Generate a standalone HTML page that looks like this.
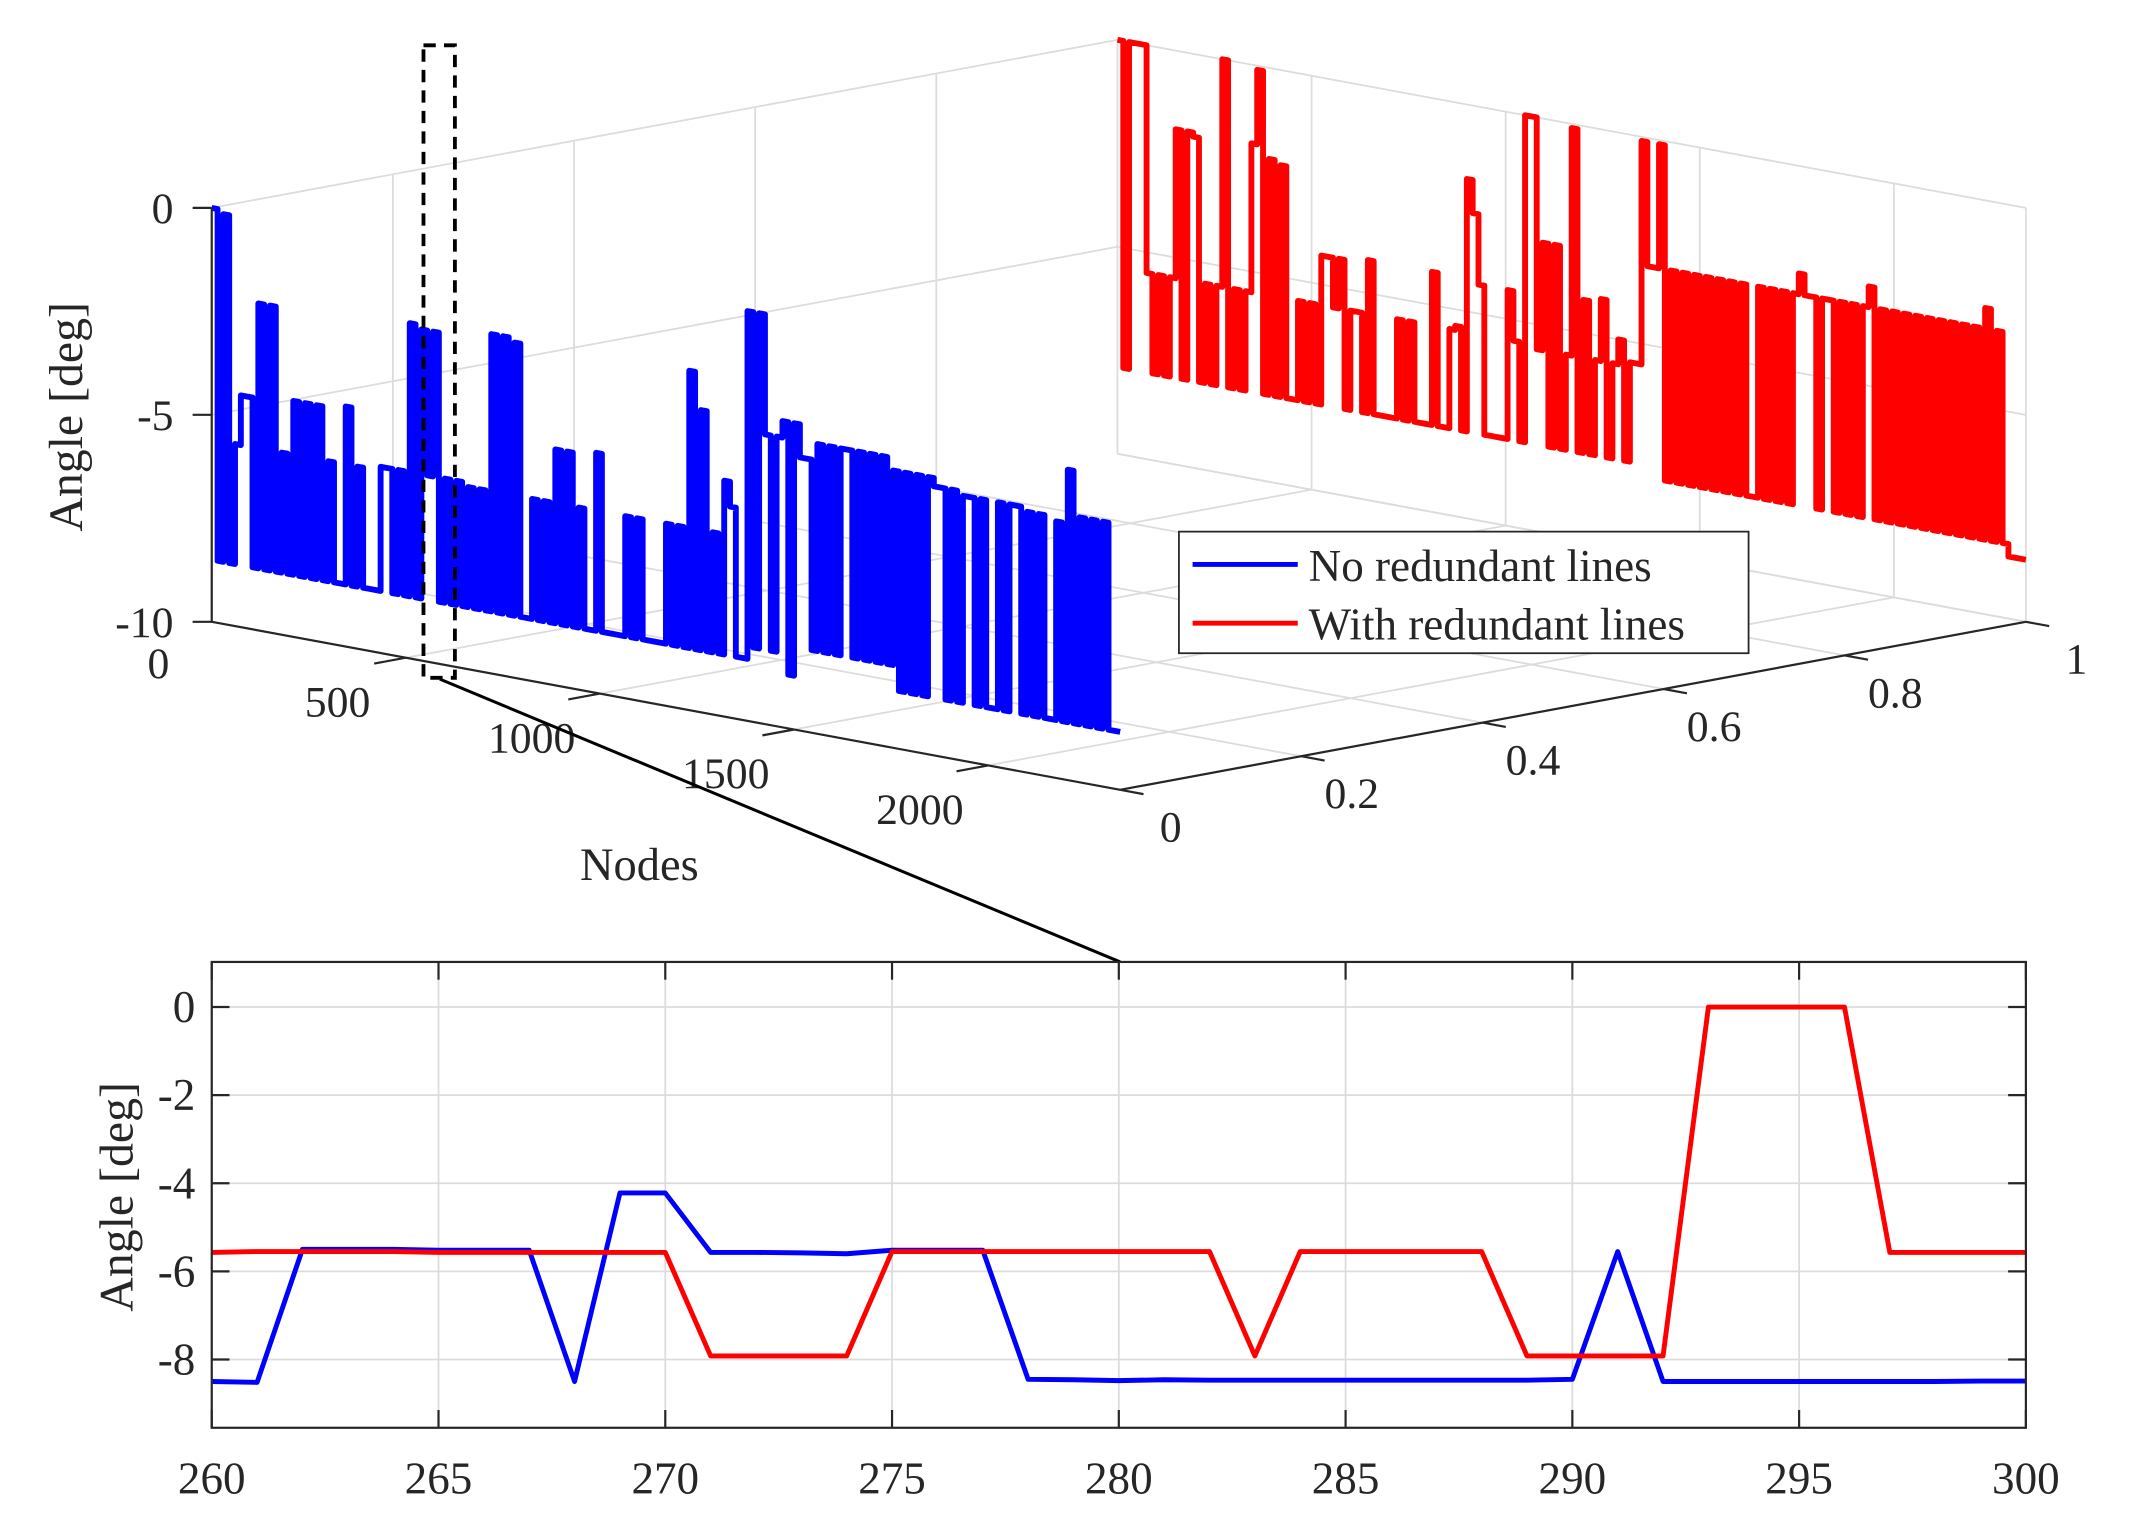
<!DOCTYPE html>
<html><head><meta charset="utf-8"><title>Angle vs Nodes</title>
<style>
html,body{margin:0;padding:0;background:#fff;}
svg{display:block;}
text{font-family:"Liberation Serif","DejaVu Serif",serif;fill:#262626;}
</style></head>
<body>
<svg id="fig" width="2142" height="1525" viewBox="0 0 1568 1116" xmlns="http://www.w3.org/2000/svg">
  <g id="top3d"></g>
  <g id="bottom"></g>
</svg>
<script>
// ---------- 3D chart data ----------
const nodeStep = 15;
const nodeTicks = [500, 1000, 1500, 2000];
const nodeTickLabels = ["500", "1000", "1500", "2000"];
const sTicks = [0, 0.2, 0.4, 0.6, 0.8, 1];
const sTickLabels = ["0", "0.2", "0.4", "0.6", "0.8", "1"];
const zTicks = [0, -5, -10];
const zTickLabels = ["0", "-5", "-10"];
const blueAngles = [
0,-8.5,-0.1,-8.5,-5.6,-4.4,-4.4,-8.5,-2.1,-8.5,
-2.1,-8.5,-5.6,-8.5,-4.3,-8.5,-4.3,-8.5,-4.3,-8.5,
-5.6,-8.5,-8.5,-4.2,-8.5,-5.6,-8.5,-8.5,-8.5,-5.5,
-5.5,-8.5,-5.5,-8.5,-1.9,-8.5,-2.0,-5.5,-2.0,-8.5,
-5.5,-8.5,-5.5,-8.5,-5.6,-8.5,-5.6,-8.5,-1.8,-8.5,
-1.8,-8.5,-1.9,-8.5,-8.5,-5.6,-8.5,-5.6,-8.5,-4.3,
-8.5,-4.3,-8.5,-5.6,-8.5,-8.5,-4.2,-8.5,-8.5,-8.5,
-8.5,-5.6,-8.5,-5.6,-8.5,-8.5,-8.5,-8.5,-5.6,-8.5,
-5.6,-8.5,-1.8,-8.5,-2.7,-8.5,-5.6,-8.5,-4.3,-4.9,
-8.5,-8.5,-0.1,-8.2,-0.1,-3.0,-8.2,-3.0,-2.6,-8.7,
-2.6,-3.4,-3.4,-8.0,-3.0,-8.0,-3.0,-8.0,-3.0,-3.0,
-8.0,-3.0,-8.0,-3.0,-8.0,-3.0,-8.0,-3.3,-8.6,-3.3,
-8.6,-3.3,-8.6,-3.3,-3.5,-3.5,-8.6,-3.5,-8.6,-3.6,
-3.6,-8.6,-3.6,-8.6,-8.6,-3.6,-8.6,-3.6,-3.6,-8.6,
-3.7,-8.6,-3.7,-8.6,-8.6,-3.8,-8.6,-2.5,-8.6,-3.6,
-8.6,-3.6,-8.6,-3.6,-8.6
];
const redAngles = [
0,-7.9,0,0,0,-5.5,-7.9,-5.5,-7.9,-5.5,
-1.9,-7.9,-1.9,-2.0,-7.9,-5.5,-7.9,-5.5,0,-7.9,
-5.5,-7.9,-5.5,-1.9,-0.1,-7.9,-2.2,-7.9,-2.3,-7.9,
-7.9,-5.5,-7.9,-5.5,-7.9,-4.3,-4.3,-5.5,-4.3,-7.9,
-5.5,-5.5,-7.9,-4.2,-7.9,-7.9,-7.9,-7.9,-5.5,-7.9,
-5.5,-7.9,-7.9,-7.9,-4.2,-7.9,-7.9,-5.5,-5.4,-7.9,
-1.8,-2.6,-4.3,-7.9,-7.9,-7.9,-7.9,-4.3,-5.5,-7.9,
0,0,-5.6,-3.0,-7.9,-3.0,-7.9,-5.6,-0.1,-7.9,
-4.2,-7.9,-5.6,-4.1,-7.9,-5.6,-5.0,-7.9,-5.5,-5.5,
-0.1,-3.1,-3.1,-0.1,-8.2,-3.1,-8.2,-3.1,-8.2,-3.1,
-8.2,-3.1,-8.2,-3.1,-8.2,-3.1,-8.2,-3.1,-8.2,-8.2,
-3.1,-8.2,-3.1,-8.2,-3.1,-8.2,-3.1,-2.6,-3.1,-3.1,
-8.2,-3.1,-3.1,-8.2,-3.1,-8.2,-3.1,-8.2,-3.1,-2.6,
-8.2,-3.1,-8.2,-3.1,-8.2,-3.1,-8.2,-3.1,-8.2,-3.1,
-8.2,-3.1,-8.2,-3.1,-8.2,-3.1,-8.2,-3.1,-8.2,-2.6,
-8.2,-3.1,-8.2,-8.5,-8.5,-8.5,-8.5
];
// ---------- zoom chart data ----------
const zoomNodes = [260,261,262,263,264,265,266,267,268,269,270,271,272,273,274,275,276,277,278,279,280,281,282,283,284,285,286,287,288,289,290,291,292,293,294,295,296,297,298,299,300];
const zoomBlue = [-8.5,-8.52,-5.5,-5.5,-5.5,-5.52,-5.52,-5.52,-8.5,-4.22,-4.22,-5.57,-5.57,-5.58,-5.6,-5.52,-5.52,-5.52,-8.45,-8.46,-8.48,-8.46,-8.47,-8.47,-8.47,-8.47,-8.47,-8.47,-8.47,-8.47,-8.45,-5.55,-8.5,-8.5,-8.5,-8.5,-8.5,-8.5,-8.5,-8.49,-8.49];
const zoomRed = [-5.57,-5.55,-5.55,-5.55,-5.55,-5.57,-5.57,-5.57,-5.57,-5.57,-5.57,-7.92,-7.92,-7.92,-7.92,-5.55,-5.55,-5.55,-5.55,-5.55,-5.55,-5.55,-5.55,-7.92,-5.55,-5.55,-5.55,-5.55,-5.55,-7.92,-7.92,-7.92,-7.92,0,0,0,0,-5.57,-5.57,-5.57,-5.57];
const zoomXTicks = [260,265,270,275,280,285,290,295,300];
const zoomXTickLabels = ["260","265","270","275","280","285","290","295","300"];
const zoomYTicks = [0,-2,-4,-6,-8];
const zoomYTickLabels = ["0","-2","-4","-6","-8"];

const NS = "http://www.w3.org/2000/svg";
function mk(tag, attrs, parent) {
  const e = document.createElementNS(NS, tag);
  for (const k in attrs) e.setAttribute(k, attrs[k]);
  parent.appendChild(e);
  return e;
}
// ---------- 3D projection ----------
const NMAX = 2340;
function P(n, s, z) {
  return [155 + n / NMAX * 665 + s * 663, 455 + n / NMAX * 123 - s * 123 - (z + 10) * 30.3];
}
const g3 = document.getElementById("top3d");
const gridStyle = {stroke: "#dcdcdc", "stroke-width": 1.3, fill: "none"};
function line3(a, b, style, name) {
  const l = mk("line", Object.assign({x1: a[0], y1: a[1], x2: b[0], y2: b[1]}, style), g3);
  
  
  return l;
}
nodeTicks.forEach(n => line3(P(n, 1, -10), P(n, 1, 0), gridStyle, "grid-back-vertical"));
[-10, -5, 0].forEach(z => line3(P(0, 1, z), P(NMAX, 1, z), gridStyle, "grid-back-horizontal"));
line3(P(NMAX, 1, -10), P(NMAX, 1, 0), gridStyle, "grid-back-edge");
sTicks.forEach(s => line3(P(0, s, -10), P(0, s, 0), gridStyle, "grid-left-vertical"));
[-5, 0].forEach(z => line3(P(0, 0, z), P(0, 1, z), gridStyle, "grid-left-horizontal"));
nodeTicks.forEach(n => line3(P(n, 0, -10), P(n, 1, -10), gridStyle, "grid-floor-node"));
sTicks.forEach(s => line3(P(0, s, -10), P(NMAX, s, -10), gridStyle, "grid-floor-s"));

function series3(vals, s, color, name) {
  const pts = [];
  for (let i = 0; i < vals.length; i++) {
    const n0 = i * nodeStep;
    const n1 = Math.min((i + 1) * nodeStep, NMAX);
    pts.push(P(n0, s, vals[i]).join(","));
    if (i < vals.length - 1) pts.push(P(n1, s, vals[i]).join(","));
    else pts.push(P(NMAX, s, vals[i]).join(","));
  }
  const pl = mk("polyline", {points: pts.join(" "), fill: "none", stroke: color, "stroke-width": 4.3, "stroke-linejoin": "round"}, g3);
  
  
}
series3(redAngles, 1, "#ff0000", "series-with-redundant-lines");
series3(blueAngles, 0, "#0000ff", "series-no-redundant-lines");

const axStyle = {stroke: "#262626", "stroke-width": 1.6};
line3(P(0, 0, -10), P(NMAX, 0, -10), axStyle, "x-axis-nodes");
line3(P(NMAX, 0, -10), P(NMAX, 1, -10), axStyle, "y-axis-s");
line3(P(0, 0, -10), P(0, 0, 0), axStyle, "z-axis");
nodeTicks.forEach(n => line3(P(n, 0, -10), P(n, -0.035, -10), axStyle, "x-tick"));
sTicks.forEach(s => line3(P(NMAX, s, -10), P(NMAX + 60, s, -10), axStyle, "y-tick"));
zTicks.forEach(z => { const p = P(0, 0, z); line3(p, [p[0] - 14, p[1]], axStyle, "z-tick"); });

function txt(parent, x, y, str, size, anchor, name, extra) {
  const t = mk("text", Object.assign({x: x, y: y, "font-size": size, "text-anchor": anchor}, extra || {}), parent);
  t.textContent = str;
  
  
  return t;
}
zTicks.forEach((z, i) => { const p = P(0, 0, z); txt(g3, p[0] - 28, p[1] + 11, zTickLabels[i], 32, "end", "z-tick-label"); });
txt(g3, 116, 496, "0", 32, "middle", "x-tick-label");
nodeTicks.forEach((n, i) => { const p = P(n, 0, -10); txt(g3, p[0] - 50, p[1] + 43, nodeTickLabels[i], 32, "middle", "x-tick-label"); });
sTicks.forEach((s, i) => { const p = P(NMAX, s, -10); txt(g3, p[0] + 37, p[1] + 38, sTickLabels[i], 32, "middle", "y-tick-label"); });
txt(g3, 468, 644, "Nodes", 34, "middle", "x-axis-title");
txt(g3, 0, 0, "Angle [deg]", 35, "middle", "z-axis-title", {transform: "translate(60,305) rotate(-90)"});

const dash = mk("rect", {x: 310, y: 33, width: 23, height: 463, fill: "none", stroke: "#000", "stroke-width": 2.8, "stroke-dasharray": "9,6"}, g3);


const conn = mk("line", {x1: 322, y1: 497, x2: 820, y2: 704, stroke: "#000", "stroke-width": 2.2}, g3);



const leg = mk("g", {}, g3);


const lb = mk("rect", {x: 863, y: 389, width: 417, height: 89, fill: "#fff", stroke: "#262626", "stroke-width": 1.3}, leg);


const l1 = mk("line", {x1: 873, y1: 413, x2: 950, y2: 413, stroke: "#0000ff", "stroke-width": 3.6}, leg);


const l2 = mk("line", {x1: 873, y1: 456, x2: 950, y2: 456, stroke: "#ff0000", "stroke-width": 3.6}, leg);


txt(leg, 958, 425, "No redundant lines", 33, "start", "legend-entry-no-redundant");
txt(leg, 958, 468, "With redundant lines", 33, "start", "legend-entry-with-redundant");

// ---------- zoom chart ----------
const gb = document.getElementById("bottom");
const BX0 = 155, BX1 = 1483, BY0 = 704, BY1 = 1045;
function xs(v) { return BX0 + (v - 260) / 40 * (BX1 - BX0); }
function ys(v) { return 737 - v * 32.25; }
function lineB(x1, y1, x2, y2, style, name) {
  const l = mk("line", Object.assign({x1: x1, y1: y1, x2: x2, y2: y2}, style), gb);
  
  
}
zoomXTicks.forEach(v => lineB(xs(v), BY0, xs(v), BY1, gridStyle, "grid-vertical"));
zoomYTicks.forEach(v => lineB(BX0, ys(v), BX1, ys(v), gridStyle, "grid-horizontal"));
function seriesB(vals, color, name) {
  const pts = vals.map((v, i) => xs(zoomNodes[i]) + "," + ys(v)).join(" ");
  const pl = mk("polyline", {points: pts, fill: "none", stroke: color, "stroke-width": 3.6, "stroke-linejoin": "round"}, gb);
  
  
}
seriesB(zoomBlue, "#0000ff", "zoom-series-no-redundant-lines");
seriesB(zoomRed, "#ff0000", "zoom-series-with-redundant-lines");
const frame = mk("rect", {x: BX0, y: BY0, width: BX1 - BX0, height: BY1 - BY0, fill: "none", stroke: "#262626", "stroke-width": 1.6}, gb);


zoomXTicks.forEach((v, i) => {
  lineB(xs(v), BY1, xs(v), BY1 - 13, axStyle, "x-tick");
  lineB(xs(v), BY0, xs(v), BY0 + 13, axStyle, "x-tick");
  txt(gb, xs(v), 1093, zoomXTickLabels[i], 33, "middle", "zoom-x-tick-label");
});
zoomYTicks.forEach((v, i) => {
  lineB(BX0, ys(v), BX0 + 13, ys(v), axStyle, "y-tick");
  lineB(BX1, ys(v), BX1 - 13, ys(v), axStyle, "y-tick");
  txt(gb, 143, ys(v) + 11, zoomYTickLabels[i], 33, "end", "zoom-y-tick-label");
});
txt(gb, 0, 0, "Angle [deg]", 35, "middle", "zoom-y-axis-title", {transform: "translate(97,876) rotate(-90)"});
</script>
</body></html>
